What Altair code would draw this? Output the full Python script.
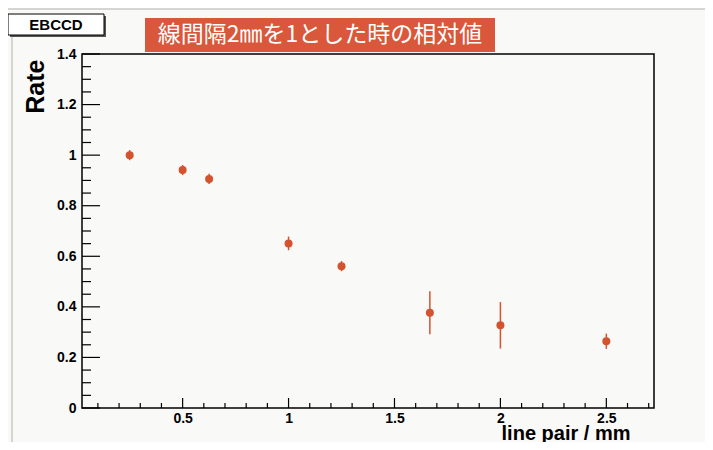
import altair as alt
import pandas as pd

# data
lp = [0.25, 0.5, 0.625, 1.0, 1.25, 1.667, 2.0, 2.5]
rate = [1.0, 0.941, 0.906, 0.651, 0.561, 0.377, 0.327, 0.264]
err = [0.02, 0.02, 0.02, 0.027, 0.02, 0.085, 0.092, 0.03]

x_labels = [0.5, 1.0, 1.5, 2.0, 2.5]
y_labels = [0.0, 0.2, 0.4, 0.6, 0.8, 1.0, 1.2, 1.4]
x_minor = [0.1, 0.2, 0.3, 0.4, 0.6, 0.7, 0.8, 0.9, 1.1, 1.2, 1.3, 1.4, 1.6, 1.7,
           1.8, 1.9, 2.1, 2.2, 2.3, 2.4, 2.6, 2.7]
y_minor = [0.05, 0.1, 0.15, 0.25, 0.3, 0.35, 0.45, 0.5, 0.55, 0.65, 0.7, 0.75,
           0.85, 0.9, 0.95, 1.05, 1.1, 1.15, 1.25, 1.3, 1.35]

W, H = 572, 354
PL, PT = 74, 46
TOTAL_W, TOTAL_H = 697, 434
RED = "#d4532f"
BG = "#f9f9f7"
FONT = "Liberation Sans"

df = pd.DataFrame({"x": lp, "y": rate,
                   "lo": [r - e for r, e in zip(rate, err)],
                   "hi": [r + e for r, e in zip(rate, err)]})

xs = alt.Scale(domain=[0.025, 2.725], nice=False, zero=False)
ys = alt.Scale(domain=[0, 1.4], nice=False, zero=False)

x_axis = alt.Axis(
    values=x_labels, format="~g", title="line pair / mm",
    ticks=False, domain=False, grid=False, labelPadding=3,
    labelFont=FONT, labelFontWeight="bold", labelFontSize=14, labelColor="black",
    titleFont=FONT, titleFontWeight="bold", titleFontSize=20, titleColor="black",
    titleAlign="right", titleBaseline="alphabetic", titleX=548, titleY=31)
y_axis = alt.Axis(
    values=y_labels, format="~g", title="Rate",
    ticks=False, domain=False, grid=False, labelPadding=6,
    labelFont=FONT, labelFontWeight="bold", labelFontSize=14, labelColor="black",
    titleFont=FONT, titleFontWeight="bold", titleFontSize=25, titleColor="black",
    titleAlign="right", titleBaseline="middle", titleX=-47, titleY=5)

one = pd.DataFrame({"a": [0]})

errbars = alt.Chart(df).mark_rule(color=RED, strokeWidth=1.5).encode(
    x=alt.X("x:Q", scale=xs, axis=x_axis),
    y=alt.Y("lo:Q", scale=ys, axis=y_axis),
    y2="hi:Q",
)

pts = alt.Chart(df).mark_circle(color=RED, size=64, opacity=1).encode(
    x=alt.X("x:Q", scale=xs, axis=x_axis),
    y=alt.Y("y:Q", scale=ys, axis=y_axis),
)

def yticks(vals, length):
    return alt.Chart(pd.DataFrame({"v": vals})).mark_rule(color="black", strokeWidth=1.2).encode(
        y=alt.Y("v:Q", scale=ys, axis=y_axis), x=alt.value(0), x2=alt.value(length))

def xticks(vals, length):
    return alt.Chart(pd.DataFrame({"v": vals})).mark_rule(color="black", strokeWidth=1.2).encode(
        x=alt.X("v:Q", scale=xs, axis=x_axis), y=alt.value(H), y2=alt.value(H - length))

# decorations (slide elements)
border_top = alt.Chart(one).mark_rule(color="#b0b0b0", strokeWidth=1).encode(
    x=alt.value(-PL), x2=alt.value(TOTAL_W - PL), y=alt.value(-45))
border_left = alt.Chart(one).mark_rule(color="#b0b0b0", strokeWidth=1).encode(
    x=alt.value(-70), y=alt.value(-19), y2=alt.value(TOTAL_H - PT))

eb_shadow = alt.Chart(one).mark_rect(color="#555555").encode(
    x=alt.value(-72), x2=alt.value(24), y=alt.value(-38), y2=alt.value(-17))
eb_box = alt.Chart(one).mark_rect(fill="white", stroke="black", strokeWidth=1).encode(
    x=alt.value(-74), x2=alt.value(22), y=alt.value(-40), y2=alt.value(-19))
eb_text = alt.Chart(one).mark_text(font=FONT, fontWeight="bold", fontSize=15,
                                   color="black", align="center", baseline="middle").encode(
    x=alt.value(-26), y=alt.value(-29), text=alt.value("EBCCD"))

red_box = alt.Chart(one).mark_rect(color="#d9573a").encode(
    x=alt.value(63), x2=alt.value(413), y=alt.value(-36), y2=alt.value(-2))
red_text = alt.Chart(one).mark_text(font="Noto Sans CJK JP", fontSize=23, color="white",
                                    align="center", baseline="middle").encode(
    x=alt.value(238), y=alt.value(-19), text=alt.value("線間隔2㎜を1とした時の相対値"))

chart = alt.layer(
    border_top, border_left,
    yticks(y_labels, 18), yticks(y_minor, 9),
    xticks(x_labels, 10), xticks(x_minor, 5),
    errbars, pts,
    red_box, red_text, eb_shadow, eb_box, eb_text,
).properties(
    width=W, height=H,
    autosize=alt.AutoSizeParams(type="none"),
    padding={"left": PL, "top": PT, "right": TOTAL_W - PL - W, "bottom": TOTAL_H - PT - H},
    background=BG,
).configure_view(stroke="black", strokeWidth=1.5, fill=BG)

chart.save("out.html", embed_options={"renderer": "svg", "actions": False})
